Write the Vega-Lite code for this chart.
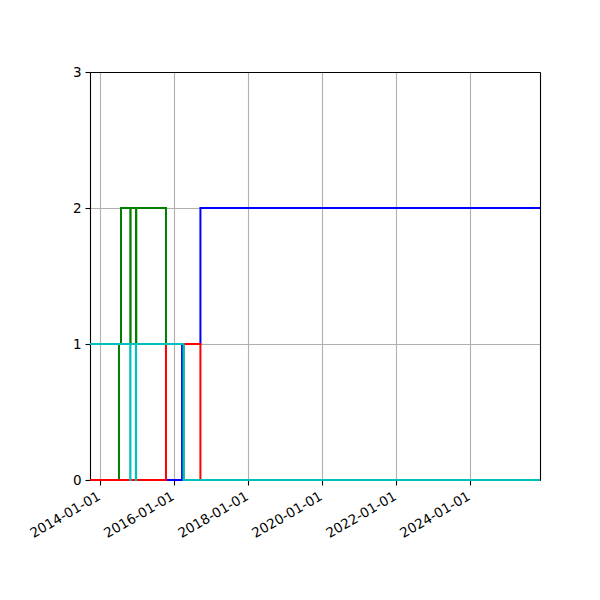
{
  "$schema": "https://vega.github.io/schema/vega-lite/v6.json",
  "width": 450,
  "height": 408,
  "autosize": "none",
  "padding": {"left": 90, "top": 72, "right": 60, "bottom": 120},
  "background": "white",
  "data": {
    "values": [
      {"series": "blue", "date": "2013-09-21", "value": 0},
      {"series": "blue", "date": "2016-03-18", "value": 1},
      {"series": "blue", "date": "2016-09-15", "value": 2},
      {"series": "blue", "date": "2025-11-19", "value": 2},
      {"series": "green", "date": "2013-09-21", "value": 0},
      {"series": "green", "date": "2014-07-04", "value": 1},
      {"series": "green", "date": "2014-07-24", "value": 2},
      {"series": "green", "date": "2014-10-24", "value": 1},
      {"series": "green", "date": "2014-10-27", "value": 2},
      {"series": "green", "date": "2014-12-19", "value": 1},
      {"series": "green", "date": "2014-12-22", "value": 2},
      {"series": "green", "date": "2015-10-11", "value": 1},
      {"series": "green", "date": "2016-04-02", "value": 0},
      {"series": "green", "date": "2025-11-19", "value": 0},
      {"series": "red", "date": "2013-09-21", "value": 0},
      {"series": "red", "date": "2015-10-11", "value": 1},
      {"series": "red", "date": "2016-09-15", "value": 0},
      {"series": "red", "date": "2025-11-19", "value": 0},
      {"series": "cyan", "date": "2013-09-21", "value": 1},
      {"series": "cyan", "date": "2014-10-23", "value": 0},
      {"series": "cyan", "date": "2014-10-25", "value": 1},
      {"series": "cyan", "date": "2014-12-18", "value": 0},
      {"series": "cyan", "date": "2014-12-20", "value": 1},
      {"series": "cyan", "date": "2016-04-02", "value": 0},
      {"series": "cyan", "date": "2025-11-19", "value": 0}
    ]
  },
  "encoding": {
    "x": {
      "field": "date",
      "type": "temporal",
      "scale": {"domain": ["2013-09-21", "2025-11-19"]},
      "axis": null
    },
    "y": {
      "field": "value",
      "type": "quantitative",
      "scale": {"domain": [0, 3], "nice": false, "zero": false},
      "axis": null
    },
    "color": {
      "field": "series",
      "type": "nominal",
      "legend": null,
      "scale": {
        "domain": ["blue", "green", "red", "cyan"],
        "range": ["#0000ff", "#008000", "#ff0000", "#00bfbf"]
      }
    }
  },
  "layer": [
    {
      "transform": [{"filter": "datum.series === 'blue'"}],
      "mark": {"type": "line", "interpolate": "step-after", "strokeWidth": 2},
      "encoding": {
        "x": {
          "field": "date",
          "type": "temporal",
          "axis": {
            "title": null,
            "values": [
              {"year": 2014, "month": 1, "date": 1},
              {"year": 2016, "month": 1, "date": 1},
              {"year": 2018, "month": 1, "date": 1},
              {"year": 2020, "month": 1, "date": 1},
              {"year": 2022, "month": 1, "date": 1},
              {"year": 2024, "month": 1, "date": 1}
            ],
            "format": "%Y-%m-%d",
            "labelAngle": -30,
            "labelAlign": "right",
            "labelBaseline": "top",
            "labelPadding": 4,
            "labelOffset": -5,
            "labelOverlap": false,
            "labelBound": false
          }
        },
        "y": {
          "field": "value",
          "type": "quantitative",
          "axis": {"title": null, "values": [0, 1, 2, 3], "format": "d", "labelPadding": 4}
        }
      }
    },
    {
      "transform": [{"filter": "datum.series === 'green'"}],
      "mark": {"type": "line", "interpolate": "step-after", "strokeWidth": 2}
    },
    {
      "transform": [{"filter": "datum.series === 'red'"}],
      "mark": {"type": "line", "interpolate": "step-after", "strokeWidth": 2}
    },
    {
      "transform": [{"filter": "datum.series === 'cyan'"}],
      "mark": {"type": "line", "interpolate": "step-after", "strokeWidth": 2},
      "encoding": {
        "x": {
          "field": "date",
          "type": "temporal",
          "axis": {"orient": "top", "title": null, "labels": false, "ticks": false, "grid": false}
        },
        "y": {
          "field": "value",
          "type": "quantitative",
          "axis": {"orient": "right", "title": null, "labels": false, "ticks": false, "grid": false}
        }
      }
    }
  ],
  "resolve": {"axis": {"x": "independent", "y": "independent"}},
  "config": {
    "view": {"stroke": null},
    "axis": {
      "gridColor": "#b0b0b0",
      "gridWidth": 1.1,
      "gridOpacity": 1,
      "domainColor": "black",
      "domainWidth": 1.1,
      "tickColor": "black",
      "tickWidth": 1.1,
      "tickSize": 5,
      "labelColor": "black",
      "labelFont": "DejaVu Sans",
      "labelFontSize": 13.5
    }
  }
}
